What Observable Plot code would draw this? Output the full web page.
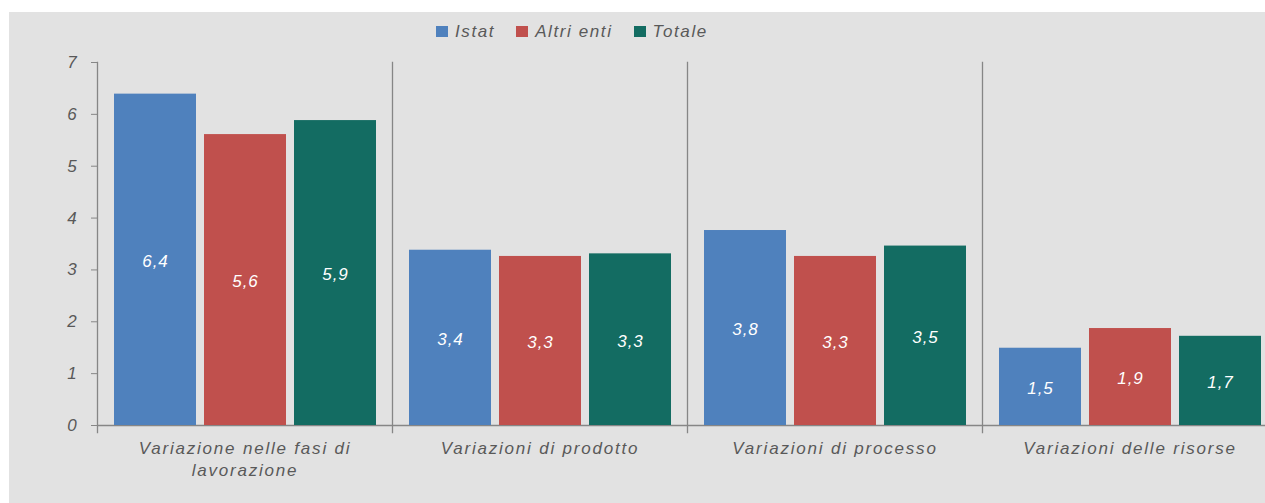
<!DOCTYPE html>
<html>
<head>
<meta charset="utf-8">
<script src="https://cdn.jsdelivr.net/npm/d3@7"></script>
<script src="https://cdn.jsdelivr.net/npm/@observablehq/plot@0.6"></script>
<style>
  html, body { margin: 0; padding: 0; background: #ffffff; }
  #chart {
    position: absolute; left: 9px; top: 12px; width: 1256px; height: 491px;
    background: #e2e2e2; overflow: hidden;
    font-family: "Liberation Sans", Arial, sans-serif; font-style: italic; color: #595959;
  }
  #legend {
    height: 38px; display: flex; align-items: center; padding-left: 427px; padding-top: 1px; box-sizing: border-box;
    font-size: 17px; letter-spacing: 1.6px;
  }
  .item { display: flex; align-items: center; margin-right: 21px; }
  .sw { width: 12px; height: 11px; margin-right: 7px; }
  #chart svg { display: block; max-width: none !important; }
  #chart svg .vlabel { letter-spacing: 1px; }
</style>
</head>
<body>
<div id="chart"><div id="legend"></div></div>
<script>
const categories = ["Variazione nelle fasi di\nlavorazione", "Variazioni di prodotto", "Variazioni di processo", "Variazioni delle risorse"];
const series = ["Istat", "Altri enti", "Totale"];
const istat = [6.39, 3.38, 3.76, 1.49];
const altriEnti = [5.61, 3.26, 3.26, 1.87];
const totale = [5.88, 3.31, 3.46, 1.72];
const colors = ["#4f81bd", "#c0504d", "#136c62"];
const yTicks = [0, 1, 2, 3, 4, 5, 6, 7];

const valuesBySeries = [istat, altriEnti, totale];
const data = [];
categories.forEach((c, i) => series.forEach((s, j) => data.push({cat: c, serie: s, value: valuesBySeries[j][i]})));

const fmt = v => v.toFixed(1).replace(".", ",");

// Legend
const legend = document.getElementById("legend");
series.forEach((s, j) => {
  const it = document.createElement("div");
  it.className = "item";
  const sw = document.createElement("div");
  sw.className = "sw";
  sw.style.background = colors[j];
  const t = document.createElement("span");
  t.textContent = s;
  it.appendChild(sw); it.appendChild(t);
  legend.appendChild(it);
});

const plot = Plot.plot({
  width: 1269,
  height: 453,
  marginTop: 12,
  marginBottom: 78,
  marginLeft: 87,
  marginRight: 0,
  style: {background: "transparent", fontFamily: "'Liberation Sans', Arial, sans-serif", fontStyle: "italic", fontSize: "17px", color: "#595959", overflow: "visible", maxWidth: "none", letterSpacing: "1.8px"},
  fx: {domain: categories, padding: 0, label: null},
  x: {domain: series, paddingInner: 0.093, paddingOuter: 0.176, axis: null},
  y: {domain: [0, 7], label: null},
  color: {domain: series, range: colors},
  marks: [
    Plot.frame({anchor: "left", stroke: "#868686", strokeWidth: 1.3, insetBottom: -7}),
    Plot.ruleY([0], {stroke: "#868686", strokeWidth: 1.3}),
    Plot.axisY({ticks: yTicks, tickSize: 6, tickPadding: 13, stroke: "#868686", tickFormat: d => String(d), fontSize: 17}),
    Plot.axisFx({anchor: "bottom", tickSize: 0, tickPadding: 13, lineHeight: 1.3, fontSize: 17}),
    Plot.barY(data, {fx: "cat", x: "serie", y: "value", fill: "serie"}),
    Plot.text(data, {fx: "cat", x: "serie", y: d => d.value / 2, dy: 2, text: d => fmt(d.value), fill: "white", fontSize: 17, fontStyle: "italic", className: "vlabel"})
  ]
});
document.getElementById("chart").appendChild(plot);
</script>
</body>
</html>
